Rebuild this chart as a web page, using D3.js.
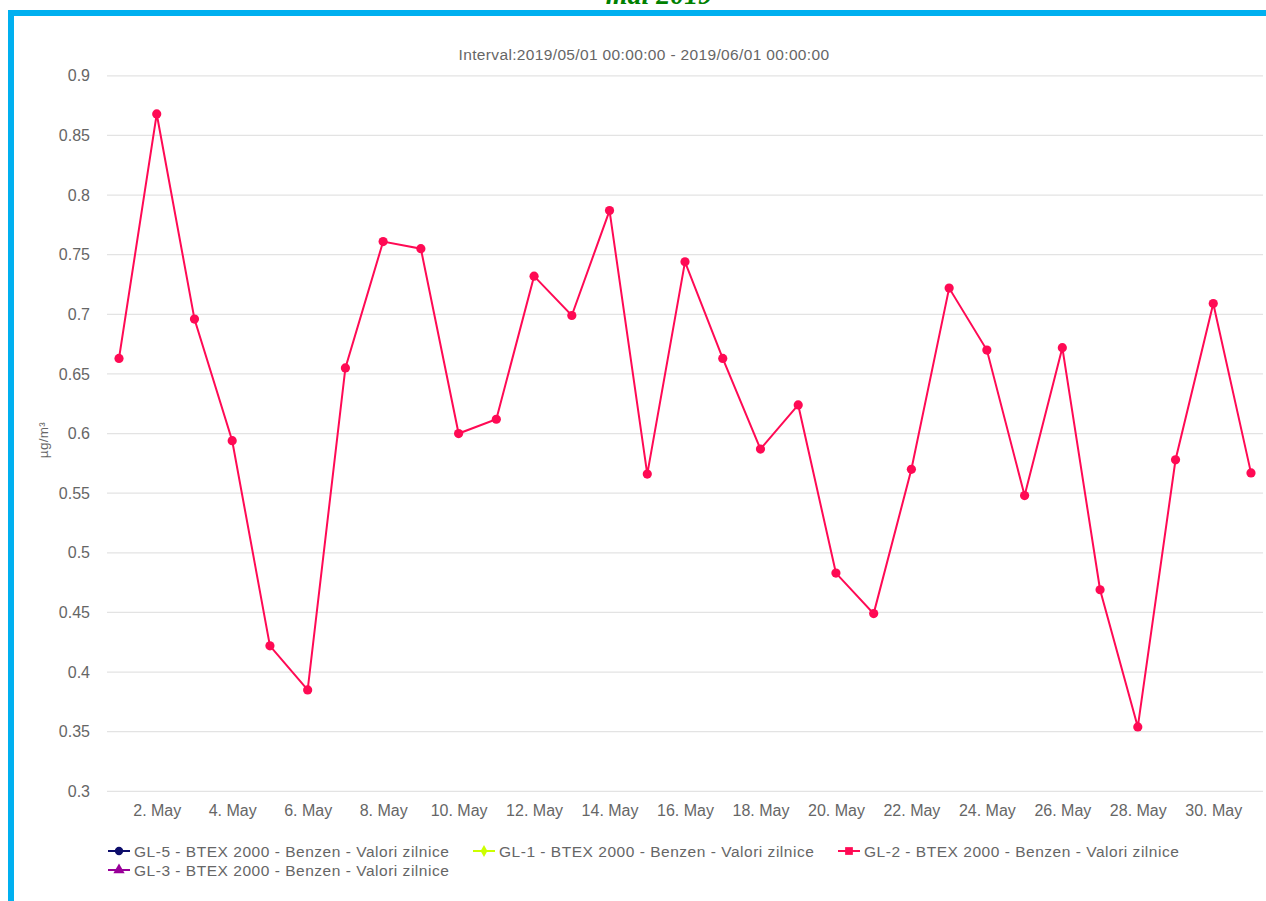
<!DOCTYPE html>
<html><head><meta charset="utf-8">
<script src="https://cdn.jsdelivr.net/npm/d3@7"></script>
<style>
html,body{margin:0;padding:0;background:#fff;overflow:hidden}
svg{display:block;font-family:"Liberation Sans",Arial,Helvetica,sans-serif}
</style></head><body>
<svg id="c" width="1266" height="901"></svg>
<script>
const pageTitle = "mai 2019";
const chartTitle = "Interval:2019/05/01 00:00:00 - 2019/06/01 00:00:00";
const yAxisLabel = "µg/m³";
const days = d3.range(1, 32);
const tickDays = [2,4,6,8,10,12,14,16,18,20,22,24,26,28,30];
const tickLabels = tickDays.map(d => d + ". May");
const yTicks = [0.3,0.35,0.4,0.45,0.5,0.55,0.6,0.65,0.7,0.75,0.8,0.85,0.9];
const gl2Values = [0.663,0.868,0.696,0.594,0.422,0.385,0.655,0.761,0.755,0.600,
  0.612,0.732,0.699,0.787,0.566,0.744,0.663,0.587,0.624,0.483,
  0.449,0.570,0.722,0.670,0.548,0.672,0.469,0.354,0.578,0.709,0.567];
const seriesNames = ["GL-5 - BTEX 2000 - Benzen - Valori zilnice","GL-1 - BTEX 2000 - Benzen - Valori zilnice","GL-2 - BTEX 2000 - Benzen - Valori zilnice","GL-3 - BTEX 2000 - Benzen - Valori zilnice"];
const seriesColors = ["#0d0d6b","#ccff00","#ff0a54","#990099"];
const seriesSymbols = [d3.symbolCircle, d3.symbolDiamond, d3.symbolSquare, d3.symbolTriangle];

const svg = d3.select("#c");
const grey = "#666";

// top page title (cut off, as in the source page)
svg.append("text").attr("x", 659).attr("y", 3.5).attr("text-anchor","middle")
  .attr("font-family","'Liberation Serif','Times New Roman',serif")
  .attr("font-style","italic").attr("font-weight","bold").attr("font-size",28)
  .attr("fill","#008000").text(pageTitle);

// blue frame
svg.append("rect").attr("x", 11).attr("y", 13).attr("width", 1300).attr("height", 1000)
  .attr("fill","none").attr("stroke","#00b0f0").attr("stroke-width",6);

const x = d3.scaleLinear().domain([1,31]).range([119,1251]);
const y = d3.scaleLinear().domain([0.3,0.9]).range([791.3,75.8]);

// grid
svg.append("g").selectAll("line").data(yTicks).join("line")
  .attr("x1",107).attr("x2",1263)
  .attr("y1",d=>y(d)).attr("y2",d=>y(d))
  .attr("stroke","#e3e3e3").attr("stroke-width",1.3);

// y axis labels
const yAxis = d3.axisLeft(y).tickValues(yTicks).tickSize(0).tickPadding(0)
  .tickFormat(d => String(+d.toFixed(2)));
const yg = svg.append("g").attr("transform","translate(90,0)").call(yAxis);
yg.select(".domain").remove();
yg.selectAll("text").attr("fill",grey).attr("font-size",16)
  .attr("font-family","'Liberation Sans',Arial,sans-serif");

// x axis labels
const xAxis = d3.axisBottom(x).tickValues(tickDays).tickSize(0).tickPadding(0)
  .tickFormat((d,i) => tickLabels[i]);
const xg = svg.append("g").attr("transform","translate(0,804.5)").call(xAxis);
xg.select(".domain").remove();
xg.selectAll("text").attr("fill",grey).attr("font-size",16)
  .attr("font-family","'Liberation Sans',Arial,sans-serif");

// titles
svg.append("text").attr("x",644).attr("y",60).attr("text-anchor","middle")
  .attr("fill",grey).attr("font-size",15.5).attr("letter-spacing",0.35).text(chartTitle);
svg.append("text").attr("transform","translate(48,440) rotate(-90)").attr("text-anchor","middle")
  .attr("fill",grey).attr("font-size",13.5).attr("letter-spacing",0.3).text(yAxisLabel);

// line
const line = d3.line().x((d,i)=>x(days[i])).y(d=>y(d));
svg.append("path").datum(gl2Values).attr("d",line)
  .attr("fill","none").attr("stroke",seriesColors[2]).attr("stroke-width",2);
svg.append("g").selectAll("circle").data(gl2Values).join("circle")
  .attr("cx",(d,i)=>x(days[i])).attr("cy",d=>y(d)).attr("r",4.6)
  .attr("fill",seriesColors[2]);

// legend
const legendPos = [[108,851],[473,851],[838,851],[108,870]];
const lg = svg.append("g");
seriesNames.forEach((n,i)=>{
  const [lx,ly] = legendPos[i];
  const g = lg.append("g").attr("transform",`translate(${lx},${ly})`);
  g.append("line").attr("x1",0).attr("x2",22).attr("y1",0).attr("y2",0)
    .attr("stroke",seriesColors[i]).attr("stroke-width",2);
  g.append("path").attr("transform","translate(11,0)")
    .attr("d",d3.symbol().type(seriesSymbols[i]).size(i===1?40:i===2?60:55)())
    .attr("fill",seriesColors[i]);
  g.append("text").attr("x",26).attr("y",5.5).attr("fill",grey)
    .attr("font-size",15.5).attr("letter-spacing",0.52).text(n);
});
</script>
</body></html>
